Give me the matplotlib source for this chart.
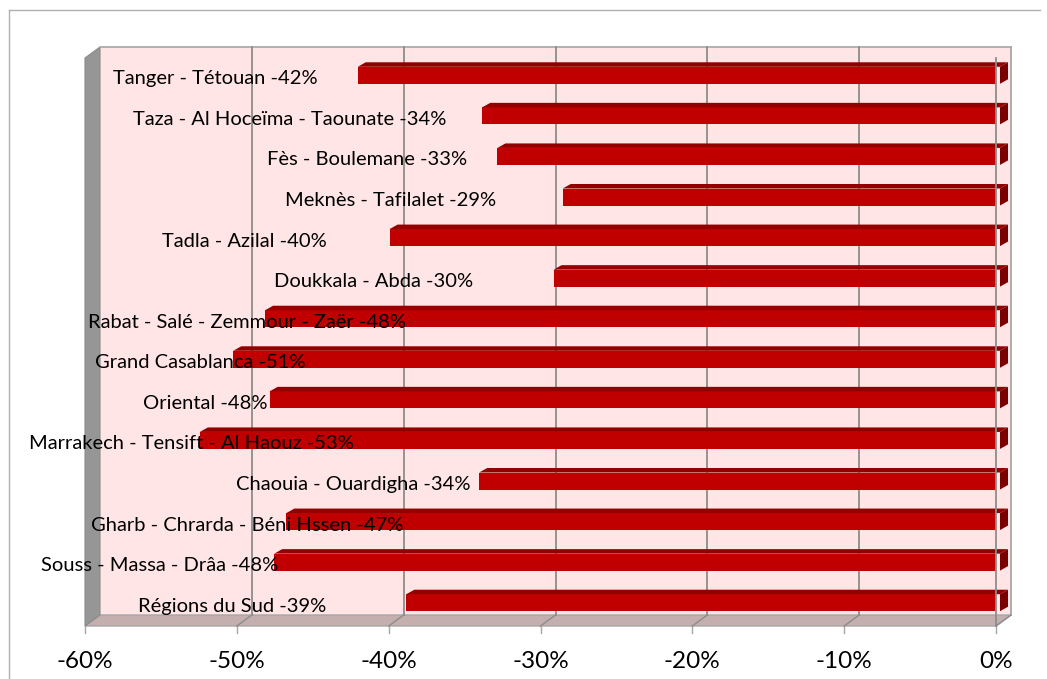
import matplotlib
matplotlib.use("Agg")
import matplotlib.pyplot as plt
from matplotlib.patches import Polygon
from matplotlib.lines import Line2D
from matplotlib.transforms import ScaledTranslation

# ---------------- data ----------------
categories = [
    "Tanger - Tétouan -42%",
    "Taza - Al Hoceïma - Taounate -34%",
    "Fès - Boulemane -33%",
    "Meknès - Tafilalet -29%",
    "Tadla - Azilal -40%",
    "Doukkala - Abda -30%",
    "Rabat - Salé - Zemmour - Zaër -48%",
    "Grand Casablanca -51%",
    "Oriental -48%",
    "Marrakech - Tensift - Al Haouz -53%",
    "Chaouia - Ouardigha -34%",
    "Gharb - Chrarda - Béni Hssen -47%",
    "Souss - Massa - Drâa -48%",
    "Régions du Sud -39%",
]
values = [-42.3, -34.1, -33.1, -28.8, -40.2, -29.4, -48.4,
          -50.5, -48.1, -52.7, -34.3, -47.0, -47.8, -39.1]
# horizontal centre of each data label (in axis units, %)
label_x = [-51.4, -46.5, -41.4, -39.9, -49.5, -41.0, -49.3,
           -52.4, -52.1, -53.0, -42.3, -49.3, -55.1, -50.3]
xticks = [-60, -50, -40, -30, -20, -10, 0]
xticklabels = ["-60%", "-50%", "-40%", "-30%", "-20%", "-10%", "0%"]

# ---------------- layout ----------------
W, H = 1047, 679
fig = plt.figure(figsize=(W / 100, H / 100), dpi=100)
fig.patch.set_facecolor("white")
AX_L, AX_R, AX_T, AX_B = 85, 996, 58, 626
ax = fig.add_axes([AX_L / W, 1 - AX_B / H, (AX_R - AX_L) / W, (AX_B - AX_T) / H])
n = len(categories)
ax.set_xlim(xticks[0], xticks[-1])
ax.set_ylim(n - 0.5, -0.5)
ax.axis("off")

kx = (xticks[-1] - xticks[0]) / (AX_R - AX_L)   # data units per pixel (x)
ky = n / (AX_B - AX_T)                            # data units per pixel (y)


def sh(x, y, dxp, dyp):
    """shift a data point by pixel offsets (dyp > 0 = up)"""
    return (x + dxp * kx, y - dyp * ky)


DX, DY = 15, 11          # wall depth in pixels
x0, x1 = xticks[0], xticks[-1]
ytop, ybot = -0.5, n - 0.5

wall_col = "#FFE5E5"
grid_col = "#8C8C8C"
edge_col = "#A6A6A6"

# back wall
ax.add_patch(Polygon([sh(x0, ytop, DX, DY), sh(x1, ytop, DX, DY),
                      sh(x1, ybot, DX, DY), sh(x0, ybot, DX, DY)],
                     closed=True, facecolor=wall_col, edgecolor="none",
                     clip_on=False, zorder=0))
# floor
ax.add_patch(Polygon([(x0, ybot), (x1, ybot), sh(x1, ybot, DX, DY), sh(x0, ybot, DX, DY)],
                     closed=True, facecolor="#C4AEAE", edgecolor=edge_col, lw=1.0,
                     clip_on=False, zorder=1))
# left wall
ax.add_patch(Polygon([(x0, ytop), sh(x0, ytop, DX, DY), sh(x0, ybot, DX, DY), (x0, ybot)],
                     closed=True, facecolor="#969696", edgecolor="#8A8A8A", lw=0.8,
                     clip_on=False, zorder=1))

# back wall outline (top)
ax.add_line(Line2D([sh(x0, ytop, DX, DY)[0], sh(x1, ytop, DX, DY)[0]],
                   [sh(x0, ytop, DX, DY)[1]] * 2, color=edge_col, lw=1.2,
                   clip_on=False, zorder=1))
# gridlines on back wall + floor
for t in xticks[1:]:
    bx, by_top = sh(t, ytop, DX, DY)
    _, by_bot = sh(t, ybot, DX, DY)
    ax.add_line(Line2D([bx, bx], [by_top, by_bot], color=grid_col if t != 0 else edge_col,
                       lw=1.3, clip_on=False, zorder=1.5))
    ax.add_line(Line2D([t, bx], [ybot, by_bot], color=grid_col, lw=1.0,
                       clip_on=False, zorder=1.5))

# tick marks + tick labels
for t, lab in zip(xticks, xticklabels):
    ax.add_line(Line2D([t, t], [ybot, ybot + 7 * ky], color=edge_col, lw=1.0,
                       clip_on=False, zorder=1))
    ax.text(t, ybot + 35 * ky, lab, ha="center", va="center", fontsize=17.5,
            family=["Lato", "DejaVu Sans"], color="black", clip_on=False)

# ---------------- bars (3D look) ----------------
BOX, BOY = 4, 3          # bar front-face offset from front plane (px)
BDX, BDY = 8, 4.5        # bar depth (px)
bh = 17 * ky             # bar thickness in data units
off = ax.transData + ScaledTranslation(BOX / 100, BOY / 100, fig.dpi_scale_trans)
ax.barh(range(n), values, height=bh, color="#C00000", edgecolor="none",
        transform=off, zorder=3)
for i, v in enumerate(values):
    yt = i - bh / 2
    yb = i + bh / 2
    # top face
    ax.add_patch(Polygon([(v, yt), (0, yt), sh(0, yt, BDX, BDY), sh(v, yt, BDX, BDY)],
                         closed=True, facecolor="#920000", edgecolor="none",
                         transform=off, zorder=3, clip_on=False))
    # side face (right end)
    ax.add_patch(Polygon([(0, yt), sh(0, yt, BDX, BDY), sh(0, yb, BDX, BDY), (0, yb)],
                         closed=True, facecolor="#7A0000", edgecolor="none",
                         transform=off, zorder=3, clip_on=False))

# front vertical line at 0
ax.add_line(Line2D([0, 0], [ytop, ybot], color=grid_col, lw=1.3, clip_on=False, zorder=4))

# data labels
for i, (lab, lx) in enumerate(zip(categories, label_x)):
    ax.text(lx, i + 6 * ky, lab, ha="center", va="baseline", fontsize=14.5,
            family=["Lato", "DejaVu Sans"], color="black", zorder=5)

# outer chart border (left + top)
fig.add_artist(Line2D([9 / W, 9 / W], [0, 1 - 10 / H], color="#B0B0B0", lw=1.0,
                      transform=fig.transFigure))
fig.add_artist(Line2D([9 / W, 1040 / W], [1 - 10 / H, 1 - 10 / H], color="#B0B0B0", lw=1.0,
                      transform=fig.transFigure))

fig.savefig("out.png", dpi=100, facecolor="white")
